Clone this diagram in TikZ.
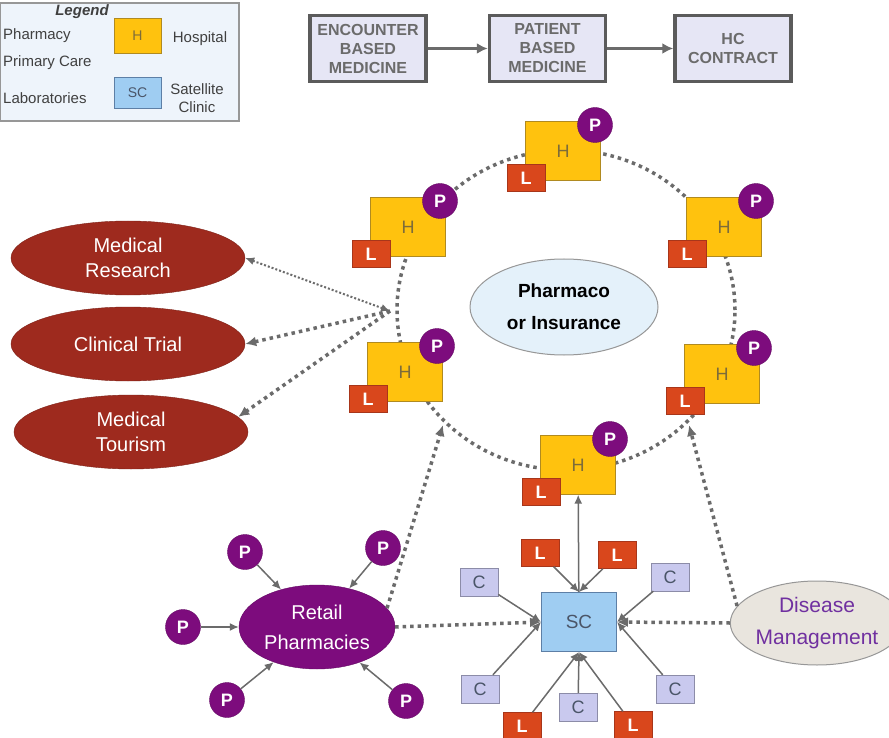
\documentclass[tikz,border=0pt]{standalone}
\usepackage{fontspec}
\setmainfont{Liberation Sans}
\usepackage{xcolor}
\usetikzlibrary{shapes.geometric,arrows.meta}

\definecolor{hospfill}{HTML}{FFC20E}
\definecolor{hospline}{HTML}{B08A20}
\definecolor{htext}{HTML}{7D6C3A}
\definecolor{labfill}{HTML}{D9471C}
\definecolor{labline}{HTML}{A8361A}
\definecolor{pharm}{HTML}{7D0C7D}
\definecolor{clinfill}{HTML}{C9C9EE}
\definecolor{clinline}{HTML}{8C8CA8}
\definecolor{sctext}{HTML}{4A5568}
\definecolor{scfill}{HTML}{9FCDF2}
\definecolor{scline}{HTML}{5D7FA6}
\definecolor{redell}{HTML}{9E2A1E}
\definecolor{grayline}{HTML}{6B6B6B}
\definecolor{boxfill}{HTML}{E6E6F5}
\definecolor{legfill}{HTML}{EEF4FB}
\definecolor{centfill}{HTML}{E4F1FA}
\definecolor{dmfill}{HTML}{E9E5DE}
\definecolor{dmtext}{HTML}{7030A0}

\tikzset{
  hosp/.style={draw=hospline, fill=hospfill, minimum width=75pt, minimum height=59pt, inner sep=0pt, text=htext, font=\fontsize{18}{18}\selectfont},
  lab/.style={draw=labline, fill=labfill, minimum width=38pt, minimum height=27pt, inner sep=0pt, text=white, font=\bfseries\fontsize{18}{18}\selectfont},
  pha/.style={circle, fill=pharm, draw=pharm!80!black, minimum size=35pt, inner sep=0pt, text=white, font=\bfseries\fontsize{18}{18}\selectfont},
  clin/.style={draw=clinline, fill=clinfill, minimum width=38pt, minimum height=28pt, inner sep=0pt, text=sctext, font=\fontsize{18}{18}\selectfont},
  stage/.style={draw=grayline!85!black, line width=3.5pt, fill=boxfill, minimum width=116pt, minimum height=66pt, inner sep=0pt, align=center, text=grayline, font=\bfseries\fontsize{16}{19}\selectfont},
  redbox/.style={ellipse, draw=redell!80!black, fill=redell, minimum width=234pt, minimum height=74pt, inner sep=0pt, align=center, text=white, font=\fontsize{20}{25}\selectfont},
  dots/.style={draw=grayline, line width=3.5pt, dash pattern=on 3.5pt off 4pt},
  thindots/.style={draw=grayline, line width=2pt, dash pattern=on 2pt off 2pt},
  arr/.style={draw=grayline, line width=1.5pt, -{Latex[length=9pt,width=8pt]}},
  dotarr/.style={dots, -{Latex[length=11pt,width=10pt]}},
  legtext/.style={text=black!75, font=\fontsize{15}{18}\selectfont}
}

\begin{document}
\begin{tikzpicture}[x=1pt,y=-1pt]
\useasboundingbox (0,0) rectangle (889,738);
\fill[white] (0,0) rectangle (889,738);

%图例
\node[draw=grayline!70, fill=legfill, line width=1.2pt, minimum width=239pt, minimum height=118pt, inner sep=0pt] (legend) at (119.5,62) {};
\node[legtext, font=\bfseries\itshape\fontsize{15}{18}\selectfont] (legtitle) at (82,12) {Legend};
\node[legtext, anchor=west, inner sep=0pt] (lpharm) at (3,36) {Pharmacy};
\node[legtext, anchor=west, inner sep=0pt] (lprim) at (3,63) {Primary Care};
\node[legtext, anchor=west, inner sep=0pt] (llab) at (3,98) {Laboratories};
\node[hosp, minimum width=47pt, minimum height=35pt, font=\fontsize{14}{14}\selectfont] (lh) at (137.5,35.5) {H};
\node[legtext] (lhosp) at (200,39) {Hospital};
\node[draw=scline, fill=scfill, minimum width=47pt, minimum height=31pt, inner sep=0pt, text=sctext, font=\fontsize{14}{14}\selectfont] (lsc) at (137.5,92.5) {SC};
\node[legtext, align=center] (lsat) at (197,98) {Satellite\\Clinic};

%顶部三个阶段
\node[stage] (enc) at (368,48.5) {ENCOUNTER\\BASED\\MEDICINE};
\node[stage] (pat) at (547.5,48.5) {PATIENT\\BASED\\MEDICINE};
\node[stage] (hcc) at (733,48.5) {HC\\CONTRACT};
\draw[draw=grayline, line width=3.5pt, -{Latex[length=11pt,width=11pt]}] (enc)--(pat);
\draw[draw=grayline, line width=3.5pt, -{Latex[length=11pt,width=11pt]}] (pat)--(hcc);

%医院环
\draw[dots] (566,310) ellipse (169pt and 160pt);
\node[ellipse, draw=grayline!70, fill=centfill, line width=1pt, minimum width=188pt, minimum height=96pt, inner sep=0pt, align=center, font=\bfseries\fontsize{19}{32}\selectfont] (ins) at (564,307) {Pharmaco\\or Insurance};

%六个医院
\node[hosp] (h1) at (563,151) {H};
\node[hosp] (h2) at (408,227) {H};
\node[hosp] (h3) at (724,227) {H};
\node[hosp] (h4) at (405,372) {H};
\node[hosp] (h5) at (722,374) {H};
\node[hosp] (h6) at (578,465) {H};

\node[lab] (l1) at (526,178) {L};
\node[lab] (l2) at (371,254) {L};
\node[lab] (l3) at (687,254) {L};
\node[lab] (l4) at (368,399) {L};
\node[lab] (l5) at (685,401) {L};
\node[lab] (l6) at (541,492) {L};

\node[pha] (p1) at (595,125) {P};
\node[pha] (p2) at (440,201) {P};
\node[pha] (p3) at (756,201) {P};
\node[pha] (p4) at (437,346) {P};
\node[pha] (p5) at (754,348) {P};
\node[pha] (p6) at (610,439) {P};

%左侧三个椭圆
\node[redbox] (mr) at (128,258) {Medical\\Research};
\node[redbox] (ct) at (128,344) {Clinical Trial};
\node[redbox] (mt) at (131,432) {Medical\\Tourism};

\coordinate (hub) at (390,311);
\draw[thindots, {Latex[length=9pt,width=8pt]}-{Latex[length=9pt,width=8pt]}] (hub)--(mr.east);
\draw[dotarr] (hub)--(ct.east);
\draw[dotarr] (hub)--(mt.8);

%零售药店
\node[ellipse, fill=pharm, draw=pharm!80!black, minimum width=156pt, minimum height=84pt, inner sep=0pt, align=center, text=white, font=\fontsize{20}{30}\selectfont] (rp) at (317,627) {Retail\\Pharmacies};
\node[pha] (rp1) at (245,552) {P};
\node[pha] (rp2) at (383,548) {P};
\node[pha] (rp3) at (183,627) {P};
\node[pha] (rp4) at (227,700) {P};
\node[pha] (rp5) at (406,701) {P};
\draw[arr] (rp1)--(rp);
\draw[arr] (rp2)--(rp);
\draw[arr] (rp3)--(rp);
\draw[arr] (rp4)--(rp);
\draw[arr] (rp5)--(rp);

%卫星诊所
\node[draw=scline, fill=scfill, line width=1pt, minimum width=75pt, minimum height=59pt, inner sep=0pt, text=sctext, font=\fontsize{19}{19}\selectfont] (sc) at (579,622) {SC};
\node[lab] (sl1) at (540,553) {L};
\node[lab] (sl2) at (617,555) {L};
\node[lab] (sl3) at (522,726) {L};
\node[lab] (sl4) at (633,725) {L};
\node[clin] (c1) at (479,582) {C};
\node[clin] (c2) at (670,577) {C};
\node[clin] (c3) at (480,689) {C};
\node[clin] (c4) at (578,707) {C};
\node[clin] (c5) at (675,689) {C};

\draw[arr] (sc)--(h6);
\draw[arr] (sl1)--(sc.north);
\draw[arr] (sl2)--(sc.north);
\draw[arr] (c1)--(sc.west);
\draw[arr] (c3)--(sc.west);
\draw[arr] (c2)--(sc.east);
\draw[arr] (c5)--(sc.east);
\draw[arr] (c4)--(sc.south);
\draw[arr] (sl3)--(sc.south);
\draw[arr] (sl4)--(sc.south);

%疾病管理
\node[ellipse, draw=grayline!70, fill=dmfill, line width=1pt, minimum width=160pt, minimum height=84pt, inner sep=0pt, align=center, text=dmtext, font=\fontsize{21}{32}\selectfont] (dm) at (817,623) {Disease\\Management};

%虚线连到环和诊所
\coordinate (ringa) at (443,425);
\coordinate (ringb) at (689,425);
\draw[dotarr] (rp.15)--(ringa);
\draw[dotarr] (rp.east)--(sc.west);
\draw[dotarr] (dm.west)--(sc.east);
\draw[dotarr] (dm.168)--(ringb);
\end{tikzpicture}
\end{document}
